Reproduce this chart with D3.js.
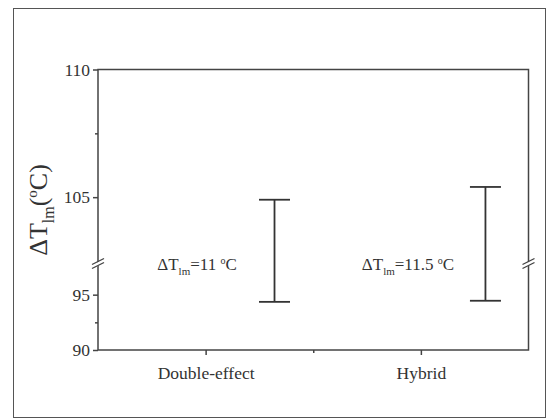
<!DOCTYPE html>
<html>
<head>
<meta charset="utf-8">
<script src="https://cdn.jsdelivr.net/npm/d3@7"></script>
<style>
  html, body { margin: 0; padding: 0; background: #fff; }
  svg { display: block; }
</style>
</head>
<body>
<svg id="chart" width="547" height="420"></svg>
<script>
// Categories and their ranges of the log-mean temperature difference
const categories = ["Double-effect", "Hybrid"];
const barPositions = [1.32, 2.30];      // x position of each range bar
const lowValues = [94.35, 94.45];
const highValues = [104.9, 105.4];
const spanLabels = ["11", "11.5"];
const labelPositions = [0.96, 1.94];

// Broken y axis: lower and upper segments
const lowerDomain = [90, 97.5];
const upperDomain = [102.5, 110];
const lowerTicks = [90, 95];
const lowerMinor = [92.5];
const upperTicks = [105, 110];
const upperMinor = [107.5];

const serif = '"Liberation Serif", serif';
const svg = d3.select("#chart");
const ink = "#444";

const plotLeft = 98, plotRight = 528.5, plotTop = 69.5, plotBottom = 350;
const breakY = 264;

const x = d3.scaleLinear().domain([0.5, 2.5]).range([plotLeft, plotRight]);
const yLow = d3.scaleLinear().domain(lowerDomain).range([plotBottom, 267]);
const yHigh = d3.scaleLinear().domain(upperDomain).range([261, plotTop]);
const y = v => (v <= lowerDomain[1] ? yLow(v) : yHigh(v));

// Outer frame
svg.append("rect")
  .attr("x", 13.5).attr("y", 8.5).attr("width", 532).attr("height", 409)
  .attr("fill", "none").attr("stroke", "#555").attr("stroke-width", 1);

// Plot frame
svg.append("rect")
  .attr("x", plotLeft).attr("y", plotTop).attr("width", plotRight - plotLeft).attr("height", plotBottom - plotTop)
  .attr("fill", "none").attr("stroke", ink).attr("stroke-width", 1.5);

function styleAxis(g, size) {
  g.select(".domain").remove();
  g.selectAll(".tick line").attr("stroke", ink).attr("stroke-width", 1.5);
  g.selectAll(".tick text").attr("fill", "#333")
    .style("font-family", serif).style("font-size", (size || 17) + "px");
}

// Y axis: major ticks with labels, minor ticks without
[[yLow, lowerTicks, lowerMinor], [yHigh, upperTicks, upperMinor]].forEach(([sc, major, minor]) => {
  svg.append("g").attr("transform", `translate(${plotLeft},0)`)
    .call(d3.axisLeft(sc).tickValues(major).tickSize(5).tickPadding(3).tickFormat(d3.format("d")))
    .call(styleAxis, 17.5);
  svg.append("g").attr("transform", `translate(${plotLeft},0)`)
    .call(d3.axisLeft(sc).tickValues(minor).tickSize(3).tickFormat(""))
    .call(styleAxis);
});

// X axis: category ticks and a minor tick between them
svg.append("g").attr("transform", `translate(0,${plotBottom})`)
  .call(d3.axisBottom(x).tickValues([1, 2]).tickSize(5).tickPadding(12)
    .tickFormat((d, i) => categories[i]))
  .call(styleAxis, 17.5);
svg.append("g").attr("transform", `translate(0,${plotBottom})`)
  .call(d3.axisBottom(x).tickValues([1.5]).tickSize(3).tickFormat(""))
  .call(styleAxis);

// Axis break marks on both vertical axes
[plotLeft, plotRight].forEach(ax => {
  const g = svg.append("g");
  g.append("polygon")
    .attr("points", `${ax - 6},${breakY + 1} ${ax + 6},${breakY - 5} ${ax + 6},${breakY - 1} ${ax - 6},${breakY + 5}`)
    .attr("fill", "#fff");
  [-2.5, 1.5].forEach(o => {
    g.append("line")
      .attr("x1", ax - 6).attr("y1", breakY + o + 3)
      .attr("x2", ax + 6).attr("y2", breakY + o - 3)
      .attr("stroke", ink).attr("stroke-width", 1.3);
  });
});

// Range bars
const capHalf = 15.5;
categories.forEach((c, i) => {
  const cx = x(barPositions[i]);
  const g = svg.append("g").attr("stroke", "#333").attr("stroke-width", 1.8);
  g.append("line").attr("x1", cx).attr("x2", cx).attr("y1", y(highValues[i])).attr("y2", y(lowValues[i]));
  g.append("line").attr("x1", cx - capHalf).attr("x2", cx + capHalf).attr("y1", y(highValues[i])).attr("y2", y(highValues[i]));
  g.append("line").attr("x1", cx - capHalf).attr("x2", cx + capHalf).attr("y1", y(lowValues[i])).attr("y2", y(lowValues[i]));
});

// Annotations: ΔTlm = value °C
spanLabels.forEach((v, i) => {
  const t = svg.append("text")
    .attr("x", x(labelPositions[i])).attr("y", 270)
    .attr("text-anchor", "middle").attr("fill", "#333")
    .style("font-family", serif).style("font-size", "17px");
  t.append("tspan").text("ΔT");
  t.append("tspan").attr("dy", 5).style("font-size", "11px").text("lm");
  t.append("tspan").attr("dy", -5).text("=" + v + " ");
  t.append("tspan").attr("dy", -6).style("font-size", "10px").text("o");
  t.append("tspan").attr("dy", 6).text("C");
});

// Y axis title
const title = svg.append("text")
  .attr("transform", `translate(47,210) rotate(-90)`)
  .attr("text-anchor", "middle").attr("fill", "#333")
  .style("font-family", serif).style("font-size", "26px");
title.append("tspan").text("ΔT");
title.append("tspan").attr("dy", 7).style("font-size", "16px").text("lm");
title.append("tspan").attr("dy", -7).text("(");
title.append("tspan").attr("dy", -10).style("font-size", "15px").text("o");
title.append("tspan").attr("dy", 10).text("C)");
</script>
</body>
</html>
